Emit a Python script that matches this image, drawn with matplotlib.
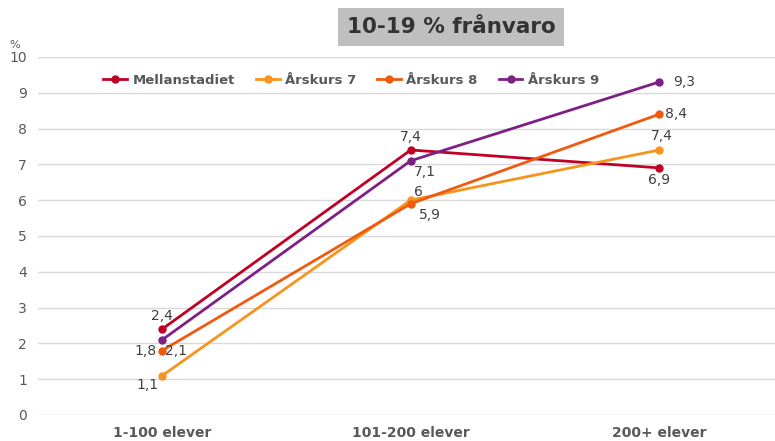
import matplotlib.pyplot as plt

categories = ["1-100 elever", "101-200 elever", "200+ elever"]
series_names = ["Mellanstadiet", "Årskurs 7", "Årskurs 8", "Årskurs 9"]
mellanstadiet = [2.4, 7.4, 6.9]
arskurs7 = [1.1, 6.0, 7.4]
arskurs8 = [1.8, 5.9, 8.4]
arskurs9 = [2.1, 7.1, 9.3]
colors = ["#C00025", "#F7941D", "#F05A0F", "#7E1F86"]

# label offsets in points (dx, dy, ha, va) per series and point
offsets = [
    [(0, 4, "center", "bottom"), (0, 4, "center", "bottom"), (0, -4, "center", "top")],
    [(-3, -2, "right", "top"), (2, 1, "left", "bottom"), (2, 5, "center", "bottom")],
    [(-4, 0, "right", "center"), (6, -3, "left", "top"), (4, 0, "left", "center")],
    [(2, -3, "left", "top"), (2, -3, "left", "top"), (10, 0, "left", "center")],
]

fig = plt.figure(figsize=(7.75, 4.41), dpi=100)
ax = fig.add_axes([0.049, 0.059, 0.962, 0.812])

x = list(range(len(categories)))
all_series = [mellanstadiet, arskurs7, arskurs8, arskurs9]
for name, vals, col, offs in zip(series_names, all_series, colors, offsets):
    ax.plot(x, vals, color=col, lw=2, marker="o", ms=5, label=name, zorder=3)
    for xi, v, (dx, dy, ha, va) in zip(x, vals, offs):
        ax.annotate(f"{v:g}".replace(".", ","), (xi, v), xytext=(dx, dy),
                    textcoords="offset points", ha=ha, va=va,
                    fontsize=10, color="#404040", zorder=4)

ax.set_xlim(-0.5, 2.5)
ax.set_ylim(0, 10)
ax.set_yticks(range(0, 11))
ax.set_xticks(x)
ax.set_xticklabels(categories, fontweight="bold", fontsize=10, color="#595959")
ax.tick_params(axis="y", labelsize=10, labelcolor="#595959", length=0, pad=8)
ax.tick_params(axis="x", length=0, pad=8)
ax.grid(axis="y", color="#D9D9D9", lw=1)
ax.set_axisbelow(True)
for s in ax.spines.values():
    s.set_visible(False)

fig.text(15 / 775, 1 - 45 / 441, "%", fontsize=8, color="#595959", ha="center", va="center")

leg = ax.legend(loc="center", bbox_to_anchor=(0.42, 0.935), ncol=4, frameon=False,
                fontsize=9.5, handlelength=1.8, columnspacing=1.6, handletextpad=0.4)
for t in leg.get_texts():
    t.set_fontweight("bold")
    t.set_color("#595959")

fig.text(451 / 775, 1 - 27 / 441, "10-19 % frånvaro", fontsize=15.5, fontweight="bold",
         color="#333333", ha="center", va="center",
         bbox=dict(boxstyle="square,pad=0.4", fc="#BFBFBF", ec="none"))

fig.savefig("out.png", dpi=100)
